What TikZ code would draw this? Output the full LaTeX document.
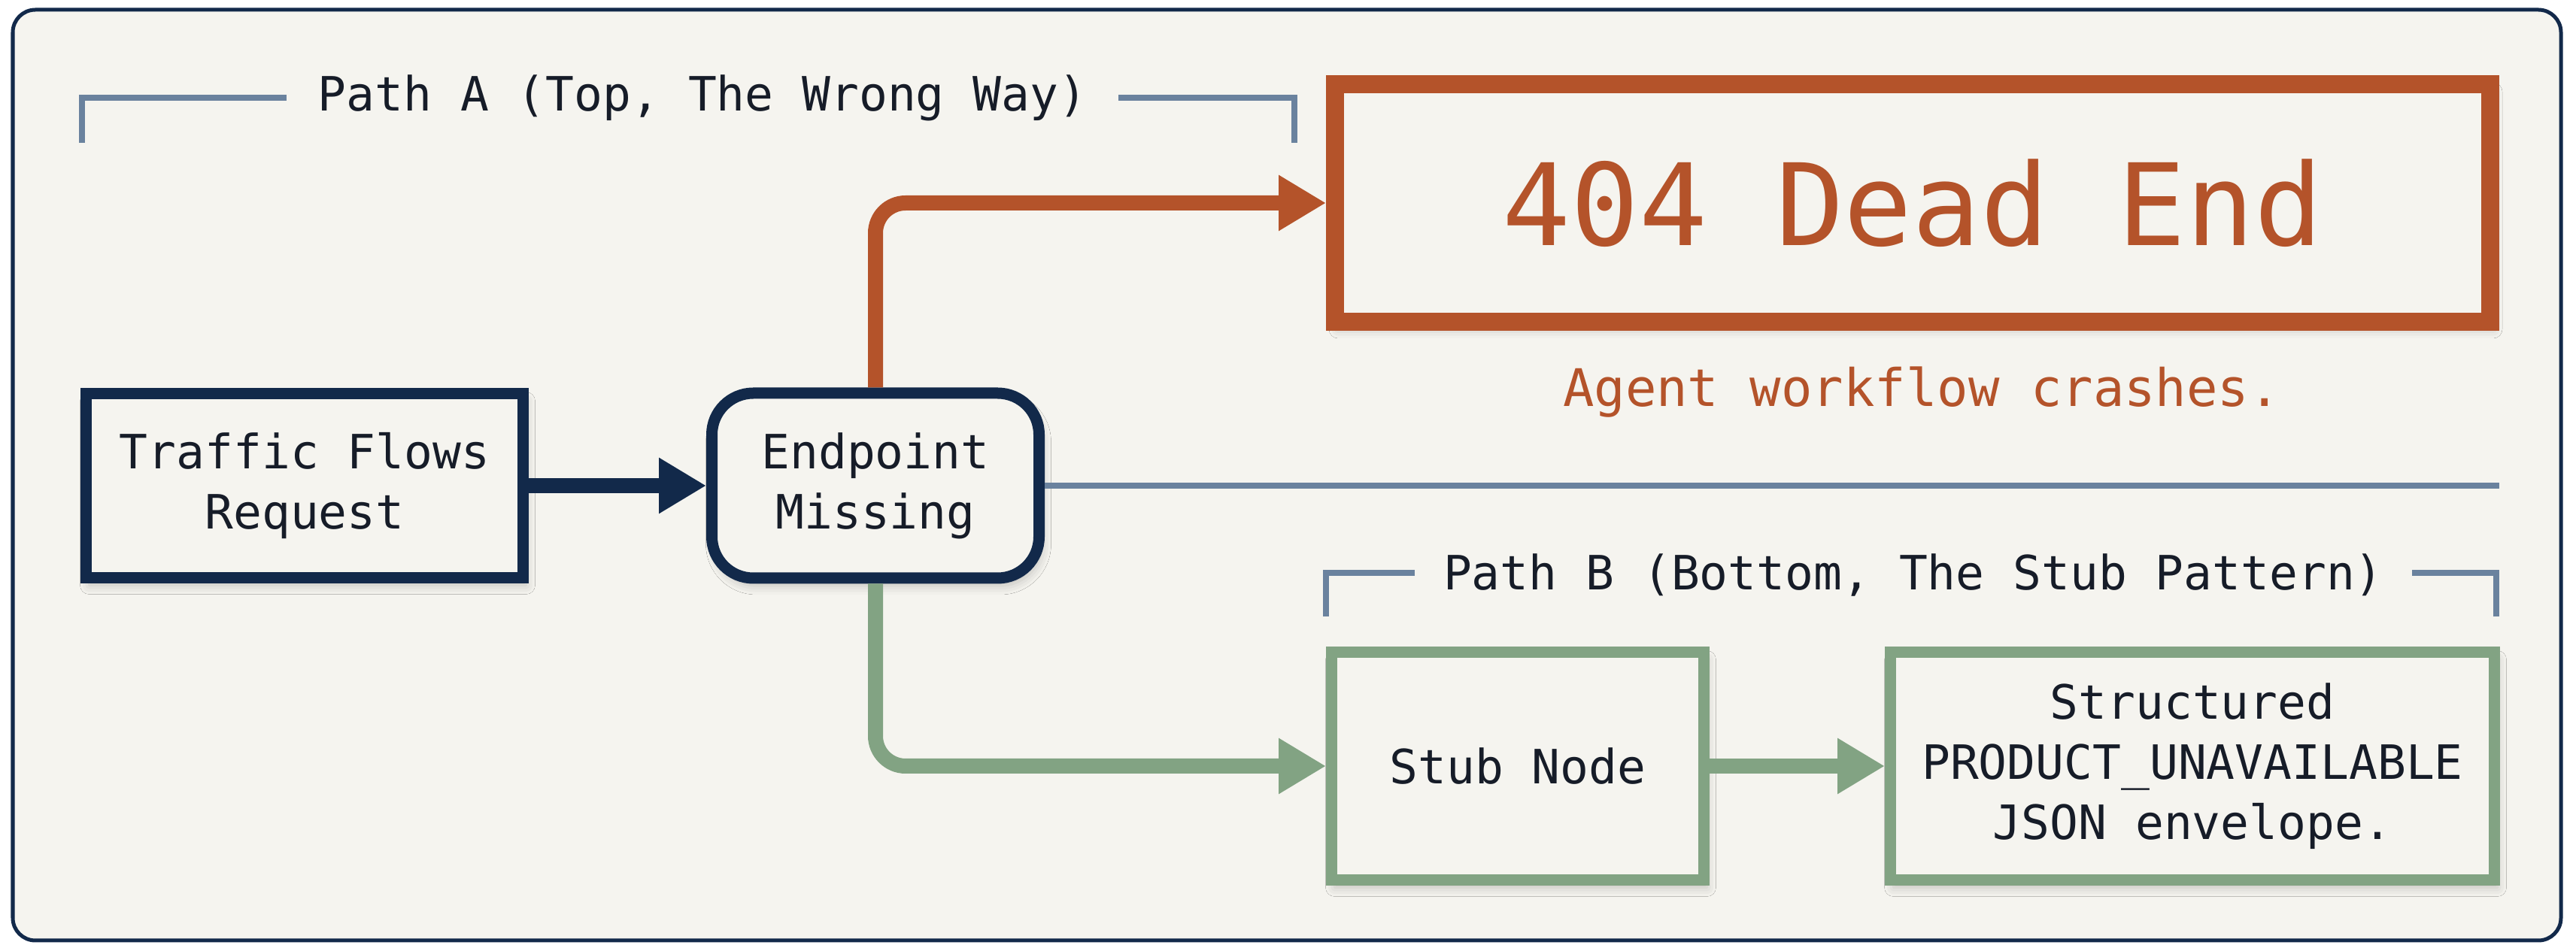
\documentclass[tikz,border=0pt]{standalone}
\usepackage{fontspec}
\setmonofont{DejaVu Sans Mono}
\usetikzlibrary{arrows.meta,shadows.blur,positioning}
\definecolor{bg}{HTML}{F5F4EF}
\definecolor{navy}{HTML}{12294A}
\definecolor{rust}{HTML}{B4532A}
\definecolor{sage}{HTML}{82A383}
\definecolor{slate}{HTML}{6A829E}
\definecolor{ink}{HTML}{161C28}
\newcommand{\bodyfont}{\ttfamily\fontsize{17.9}{22.8}\selectfont}
\tikzset{
  soft/.style={blur shadow={shadow xshift=0.04cm,shadow yshift=-0.1cm,shadow blur radius=0.12cm,shadow opacity=22}},
  box/.style={draw=navy,line width=0.15cm,fill=bg,align=center,text=ink,font=\bodyfont,soft},
  deadend/.style={box,draw=rust,line width=0.24cm,text=rust,font=\ttfamily\fontsize{43}{50}\selectfont},
  stubbox/.style={box,draw=sage},
  flow/.style={line width=0.2cm,-{Triangle[length=0.63cm,width=0.7cm]}},
  bracket/.style={slate,line width=0.08cm},
  tag/.style={fill=bg,inner xsep=0.42cm,text=ink,font=\bodyfont}
}

\begin{document}
\begin{tikzpicture}
    \useasboundingbox (0,0) rectangle (34.25,12.61);
    \draw[navy,line width=0.05cm,rounded corners=0.3cm,fill=bg] (0.17,0.10) rectangle (34.05,12.48);

    % path A header
    \draw[bracket] (1.09,10.71) |- (17.21,11.31) -- (17.21,10.71);
    \node[tag] (taga) at (9.34,11.31) {Path A (Top, The Wrong Way)};

    \node[box,minimum width=5.81cm,minimum height=2.45cm] (traffic) at (4.05,6.15) {Traffic Flows\\Request};
    \node[box,rounded corners=0.55cm,minimum width=4.35cm,minimum height=2.46cm,right=2.36cm of traffic] (ep) {Endpoint\\Missing};

    \node[deadend,minimum width=15.36cm,minimum height=3.16cm] (dead) at (25.43,9.91) {404 Dead End};
    \node[text=rust,font=\ttfamily\fontsize{19.6}{24}\selectfont] (crash) at (25.55,7.39) {Agent workflow crashes.};

    % divider
    \coordinate (sepend) at (33.23,6.15);
    \draw[slate,line width=0.08cm] (ep.east) -- (sepend);

    % path B header
    \draw[bracket] (17.63,4.41) |- (33.19,4.99) -- (33.19,4.41);
    \node[tag,inner xsep=0.38cm] (tagb) at (25.44,4.96) {Path B (Bottom, The Stub Pattern)};

    \node[stubbox,minimum width=4.95cm,minimum height=3.03cm] (stub) at (20.18,2.42) {Stub Node};
    \node[stubbox,minimum width=8.03cm,minimum height=3.03cm] (env) at (29.15,2.42) {Structured\\PRODUCT\_UNAVAILABLE\\JSON envelope.};

    \draw[flow,navy] (traffic) -- (ep);
    \draw[flow,rust,rounded corners=0.4cm] (ep.north) |- (dead.west);
    \draw[flow,sage,rounded corners=0.4cm] (ep.south) |- (stub.west);
    \draw[flow,sage] (stub) -- (env);
\end{tikzpicture}
\end{document}
